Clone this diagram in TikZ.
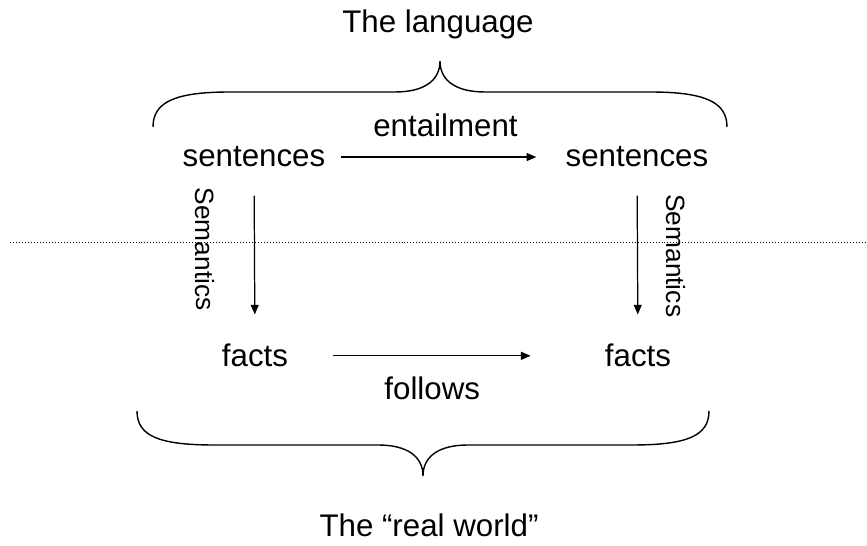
\documentclass[tikz,border=0pt]{standalone}
\usepackage{fontspec}
\setmainfont{Liberation Sans}
\usetikzlibrary{arrows.meta}

\begin{document}
\begin{tikzpicture}[x=0.02cm,y=-0.02cm,
		word/.style={inner sep=0,anchor=base,font=\fontsize{17.8pt}{20pt}\selectfont},
		sem/.style={font=\fontsize{15pt}{17pt}\selectfont,sloped},
		link/.style={-{Triangle[length=5.5pt,width=4.5pt]},line width=0.7pt},
		brace/.style={line width=0.8pt}]
		\useasboundingbox (0,0) rectangle (867,546);
		\node[word] (lang) at (438,33) {The language};
		\node[word] (real) at (429,537) {The “real world”};
		\node[word] (s1) at (254,167) {sentences};
		\node[word] (s2) at (637,167) {sentences};
		\node[word] (f1) at (255,367) {facts};
		\node[word] (f2) at (638,367) {facts};
		\draw [link,shorten <=0.3cm,shorten >=0.58cm] (s1.east) to node[pos=0.5, above, word, anchor=south, inner sep=0.39cm]{entailment} (s2.west);
		\draw [link,shorten <=0.9cm,shorten >=1.48cm] (f1.east) to node[pos=0.455, below, word, anchor=north, inner sep=0.41cm]{follows} (f2.west);
		\draw [link,shorten <=0.56cm,shorten >=0.59cm] (s1) to node[pos=0.46, sem, below, inner sep=0.78cm]{Semantics} (f1);
		\draw [link,shorten <=0.56cm,shorten >=0.59cm] (s2) to node[pos=0.5, sem, above, inner sep=0.56cm]{Semantics} (f2);
		\draw [line width=0.57pt,dash pattern=on 0.567pt off 1.134pt] (10,243) -- (867,243);
		\draw [brace] (153,127) .. controls (153,102) and (175,92) .. (230,92) -- (395,92) .. controls (425,92) and (440,80) .. (440,61) .. controls (440,80) and (455,92) .. (485,92) -- (650,92) .. controls (705,92) and (727,102) .. (727,127);
		\draw [brace] (137,411) .. controls (137,436) and (159,445) .. (214,445) -- (378,445) .. controls (408,445) and (423,457) .. (423,476) .. controls (423,457) and (438,445) .. (468,445) -- (632,445) .. controls (687,445) and (709,436) .. (709,411);
	\end{tikzpicture}
\end{document}
